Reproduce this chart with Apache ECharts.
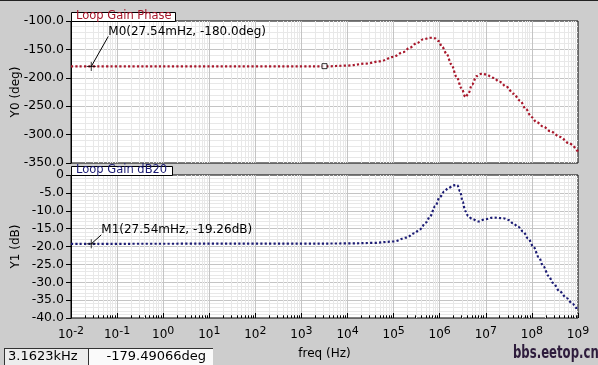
<!DOCTYPE html>
<html><head><meta charset="utf-8">
<script src="https://cdn.jsdelivr.net/npm/echarts@6/dist/echarts.min.js"></script>
<style>html,body{margin:0;padding:0;background:#cdcdcd;overflow:hidden}#c{width:598px;height:365px}</style>
</head><body><div id="c"></div>
<script>
// ---- data (frequency stored as log10(Hz)) ----
const decadeExponents = [-2,-1,0,1,2,3,4,5,6,7,8,9];
const phaseLogFreq = [-2,3.0,3.5,4.0,4.4,4.7,5.0,5.2,5.35,5.5,5.65,5.8,5.9,5.97,6.05,6.15,6.25,6.37,6.47,6.56,6.62,6.7,6.8,6.9,7.0,7.16,7.3,7.45,7.6,7.74,7.87,7.99,8.1,8.25,8.4,8.61,8.8,9.0];
const phaseDeg     = [-180,-180,-180,-178.5,-175,-171,-163,-155,-147,-139,-132,-129.5,-130.5,-135,-145,-158,-176,-199,-218,-234,-228,-212,-197,-193,-194,-200,-207,-216,-228,-240,-255,-269,-278,-286,-294,-304,-315,-330];
const gainLogFreq  = [-2,3.0,4.0,4.56,5.0,5.28,5.45,5.57,5.7,5.79,5.9,6.0,6.1,6.18,6.3,6.38,6.44,6.5,6.55,6.62,6.7,6.84,6.98,7.16,7.38,7.5,7.59,7.7,7.81,7.92,8.03,8.15,8.25,8.36,8.46,8.6,8.75,8.88,8.97,9.0];
const gainDb       = [-19.26,-19.2,-19.15,-19.0,-18.6,-17.5,-16.3,-15.2,-13.3,-11.6,-8.8,-6.2,-4.6,-3.7,-2.9,-2.8,-4.5,-7.5,-10.0,-11.5,-12.3,-13.0,-12.4,-11.9,-12.1,-12.6,-13.5,-14.5,-15.8,-17.8,-20.0,-23.0,-25.6,-28.2,-30.2,-32.5,-34.4,-36.0,-37.2,-37.5];
const phaseRange = [-350,-100], phaseStep = 50;
const gainRange = [-40,0], gainStep = 5;
const markerFreqHz = 0.02754;
const markerPhase = -180.0;
const markerGain = -19.26;
const cursorFreqHz = 3162.3;
const cursorPhase = -179.49066;
const phaseTitle = 'Loop Gain Phase';
const gainTitle = 'Loop Gain dB20';
const m0Text = 'M0(27.54mHz, -180.0deg)';
const m1Text = 'M1(27.54mHz, -19.26dB)';
const statusFreq = '3.1623kHz';
const statusValue = '-179.49066deg';

// ---- layout ----
const L = 71, W = 507, T1 = 21, H1 = 142, T2 = 175, H2 = 143;
const FONT = 'DejaVu Sans';
const PHASE_C = '#a8182c', GAIN_C = '#1c1c74';
const MAJ = '#c4c4c4', MIN = '#e8e8e8';

const minorX = [];
for (let n = decadeExponents[0]; n < decadeExponents[decadeExponents.length-1]; n++)
  for (let k = 2; k <= 9; k++) minorX.push(n + Math.log10(k));

function gridLines(idx) {
  return {type:'line', xAxisIndex:idx, yAxisIndex:idx, data:[], z:1, silent:true, animation:false,
    markLine:{silent:true, symbol:'none', animation:false, label:{show:false},
      lineStyle:{color:MIN, width:1, type:'solid'}, emphasis:{disabled:true},
      data:minorX.map(x=>({xAxis:x}))}};
}
const chart = echarts.init(document.getElementById('c'), null, {renderer:'canvas'});
const yLab = {color:'#000', fontSize:12.5, fontFamily:FONT, margin:7};
const split = () => ({show:true, showMinLine:false, showMaxLine:false, lineStyle:{color:MAJ}});
const yName = {color:'#000', fontSize:12, fontFamily:FONT};
const opt = {
  animation:false,
  backgroundColor:'#cdcdcd',
  grid:[
    {left:L, top:T1, width:W, height:H1, show:true, backgroundColor:'#fff', borderColor:'#000', borderWidth:1, containLabel:false, outerBoundsMode:'none'},
    {left:L, top:T2, width:W, height:H2, show:true, backgroundColor:'#fff', borderColor:'#000', borderWidth:1, containLabel:false, outerBoundsMode:'none'}
  ],
  xAxis:[
    {gridIndex:0, type:'value', min:decadeExponents[0], max:decadeExponents[decadeExponents.length-1], interval:1,
      axisLabel:{show:false}, axisTick:{show:false}, axisLine:{show:false, onZero:false}, splitLine:split()},
    {gridIndex:1, type:'value', min:decadeExponents[0], max:decadeExponents[decadeExponents.length-1], interval:1,
      axisLine:{show:false, onZero:false}, axisTick:{show:true, inside:true, length:5, lineStyle:{color:'#000'}},
      splitLine:split(),
      axisLabel:{margin:7, formatter:v=>'{b|10}{s|'+v+'}',
        rich:{b:{fontSize:12, fontFamily:FONT, color:'#000', padding:[4,0,0,0]},
              s:{fontSize:11, fontFamily:FONT, color:'#000', padding:[0,0,4,0]}}},
      name:'freq (Hz)', nameLocation:'middle', nameGap:30, nameMoveOverlap:false,
      nameTextStyle:{color:'#000', fontSize:12, fontFamily:FONT}}
  ],
  yAxis:[
    {gridIndex:0, type:'value', min:phaseRange[0], max:phaseRange[1], interval:phaseStep,
      axisLine:{show:true, onZero:false, lineStyle:{color:'#000'}}, axisTick:{show:true, length:5, lineStyle:{color:'#000'}},
      minorTick:{show:false, splitNumber:5}, minorSplitLine:{show:true, lineStyle:{color:MIN}},
      splitLine:split(),
      axisLabel:Object.assign({formatter:v=>v.toFixed(1)}, yLab),
      name:'Y0 (deg)', nameLocation:'middle', nameGap:49, nameMoveOverlap:false, nameTextStyle:yName},
    {gridIndex:1, type:'value', min:gainRange[0], max:gainRange[1], interval:gainStep,
      axisLine:{show:true, onZero:false, lineStyle:{color:'#000'}}, axisTick:{show:true, length:5, lineStyle:{color:'#000'}},
      minorTick:{show:false, splitNumber:5}, minorSplitLine:{show:true, lineStyle:{color:MIN}},
      splitLine:split(),
      axisLabel:Object.assign({formatter:v=>v===0?'0':v.toFixed(1)}, yLab),
      name:'Y1 (dB)', nameLocation:'middle', nameGap:49, nameMoveOverlap:false, nameTextStyle:yName}
  ],
  series:[
    gridLines(0), gridLines(1),
    {type:'line', xAxisIndex:1, yAxisIndex:1, data:[], z:3, silent:true,
      markLine:{silent:true, symbol:'none', animation:false, label:{show:false},
        lineStyle:{color:'#000', width:1, type:'solid'},
        data:minorX.map(x=>[{coord:[x,gainRange[0]]},{coord:[x,gainRange[0]+0.75]}])}},
    {name:'phase', type:'line', xAxisIndex:0, yAxisIndex:0, z:5,
      data:phaseLogFreq.map((f,i)=>[f, phaseDeg[i]]), showSymbol:false, smooth:0.35, smoothMonotone:'x',
      lineStyle:{color:PHASE_C, width:2.2, type:[2.2,2.2]}},
    {name:'gain', type:'line', xAxisIndex:1, yAxisIndex:1, z:5,
      data:gainLogFreq.map((f,i)=>[f, gainDb[i]]), showSymbol:false, smooth:0.35, smoothMonotone:'x',
      lineStyle:{color:GAIN_C, width:2.2, type:[2.2,2.2]}},
    {type:'scatter', xAxisIndex:0, yAxisIndex:0, z:8, symbol:'path://M0,5L10,5M5,0L5,10', symbolSize:9,
      itemStyle:{color:'rgba(0,0,0,0)', borderColor:'#000', borderWidth:1},
      data:[[Math.log10(markerFreqHz), markerPhase]]},
    {type:'scatter', xAxisIndex:1, yAxisIndex:1, z:8, symbol:'path://M0,5L10,5M5,0L5,10', symbolSize:9,
      itemStyle:{color:'rgba(0,0,0,0)', borderColor:'#000', borderWidth:1},
      data:[[Math.log10(markerFreqHz), markerGain]]},
    {type:'scatter', xAxisIndex:0, yAxisIndex:0, z:8, symbol:'rect', symbolSize:5,
      itemStyle:{color:'#fff', borderColor:'#000', borderWidth:1},
      data:[[Math.log10(cursorFreqHz), cursorPhase]]}
  ]
};
chart.setOption(opt);

const p0 = chart.convertToPixel({gridIndex:0}, [Math.log10(markerFreqHz), markerPhase]);
const p1 = chart.convertToPixel({gridIndex:1}, [Math.log10(markerFreqHz), markerGain]);
const txt = (x,y,s,fill,size,extra)=>({type:'text', x:x, y:y, z:50,
  style:Object.assign({text:s, fill:fill, font:size+'px "'+FONT+'"', textVerticalAlign:'middle'}, extra||{})});
const graphics = [
  {type:'rect', shape:{x:0,y:0,width:598,height:1}, style:{fill:'#222'}, z:40},
  // tabs
  {type:'rect', shape:{x:L+0.5,y:12.5,width:104,height:T1-12}, style:{fill:'#fff', stroke:'#000', lineWidth:1}, z:46},
  txt(L+5, 16.5, phaseTitle, PHASE_C, 11.5),
  {type:'rect', shape:{x:L+0.5,y:166.5,width:101,height:T2-166}, style:{fill:'#fff', stroke:'#000', lineWidth:1}, z:46},
  txt(L+5, 170.5, gainTitle, GAIN_C, 11.5),
  // marker connectors & labels
  {type:'line', shape:{x1:p0[0], y1:p0[1], x2:p0[0]+17, y2:p0[1]-30}, style:{stroke:'#000', lineWidth:1}, z:48},
  txt(p0[0]+17, p0[1]-35, m0Text, '#000', 12),
  {type:'line', shape:{x1:p1[0], y1:p1[1], x2:p1[0]+10, y2:p1[1]-9}, style:{stroke:'#000', lineWidth:1}, z:48},
  txt(p1[0]+10, p1[1]-14, m1Text, '#000', 12),
  // status boxes
  {type:'rect', shape:{x:4,y:348,width:84,height:18}, style:{fill:'#ededed'}, z:40},
  {type:'rect', shape:{x:89,y:348,width:124,height:18}, style:{fill:'#fafafa'}, z:40},
  {type:'line', shape:{x1:4.5,y1:348,x2:4.5,y2:366}, style:{stroke:'#333', lineWidth:1}, z:41},
  {type:'line', shape:{x1:88.5,y1:348,x2:88.5,y2:366}, style:{stroke:'#333', lineWidth:1}, z:41},
  {type:'line', shape:{x1:4,y1:348.5,x2:213,y2:348.5}, style:{stroke:'#333', lineWidth:1}, z:41},
  txt(8, 357, statusFreq, '#000', 13),
  txt(206, 357, statusValue, '#000', 13, {textAlign:'right'}),
  // watermark
  {type:'text', x:513, y:345, z:50, scaleY:1.35, originX:0, originY:0,
    style:{text:'bbs.eetop.cn', fill:'#2e1c3c', font:'bold 13px "DejaVu Sans Condensed", "DejaVu Sans"', textVerticalAlign:'top'}}
];
chart.setOption({graphic:graphics});
</script></body></html>
